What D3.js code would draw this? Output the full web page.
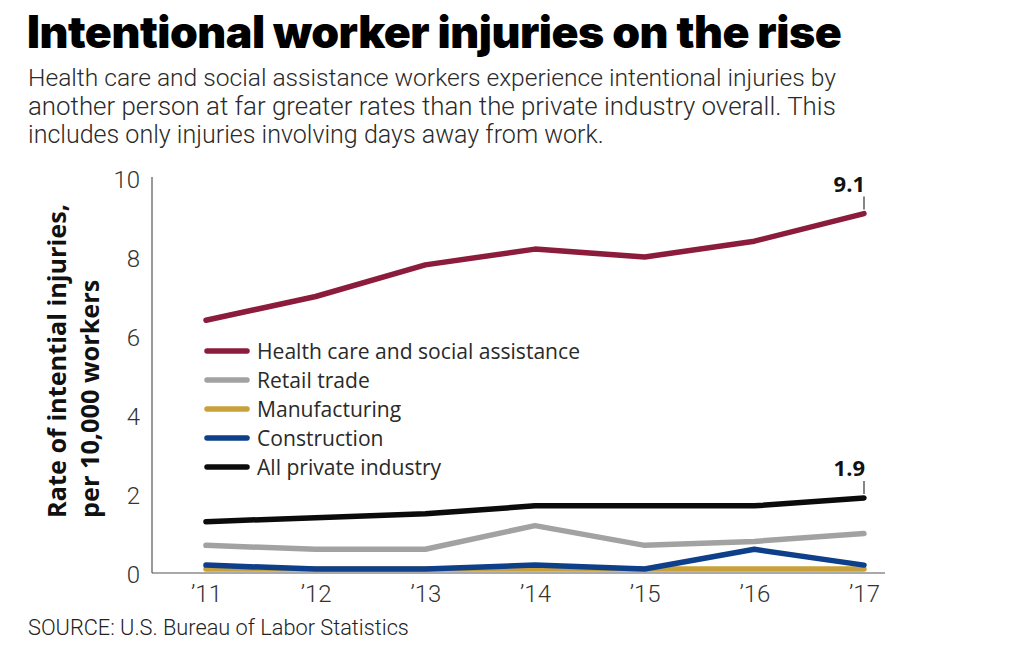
<!DOCTYPE html>
<html>
<head>
<meta charset="utf-8">
<script src="https://cdn.jsdelivr.net/npm/d3@7"></script>
<style>
  body { margin: 0; background: #fff; }
  svg { display: block; }
</style>
</head>
<body>
<svg></svg>
<script>
const years = ["’11", "’12", "’13", "’14", "’15", "’16", "’17"];
const yTicks = [0, 2, 4, 6, 8, 10];

const seriesNames = [
  "Health care and social assistance",
  "Retail trade",
  "Manufacturing",
  "Construction",
  "All private industry"
];
const healthCare = [6.4, 7.0, 7.8, 8.2, 8.0, 8.4, 9.1];
const retail = [0.7, 0.6, 0.6, 1.2, 0.7, 0.8, 1.0];
const manufacturing = [0.1, 0.1, 0.1, 0.1, 0.1, 0.1, 0.1];
const construction = [0.2, 0.1, 0.1, 0.2, 0.1, 0.6, 0.2];
const allPrivate = [1.3, 1.4, 1.5, 1.7, 1.7, 1.7, 1.9];

const colors = ["#8c1c3c", "#a2a2a2", "#c9a13a", "#0e3f8a", "#0b0b0b"];

const series = [healthCare, retail, manufacturing, construction, allPrivate];
// draw order: bottom lines first so construction sits over manufacturing
const drawOrder = [2, 3, 1, 4, 0];

const svg = d3.select("svg").attr("width", 1024).attr("height", 646);

// shrink/grow a text's font so it spans a given width
const fitWidth = function(sel, w) {
  const node = sel.node();
  const size = parseFloat(sel.attr("font-size"));
  const len = node.getComputedTextLength();
  sel.attr("font-size", (size * w / len).toFixed(2));
  return size * w / len;
};

const title = svg.append("text")
  .attr("x", 27).attr("y", 48)
  .attr("font-family", "Inter, Roboto, sans-serif")
  .attr("font-weight", 900)
  .attr("font-size", 42)
  .attr("letter-spacing", -0.5)
  .attr("fill", "#000")
  .text("Intentional worker injuries on the rise");
fitWidth(title, 813);

const subLines = [
  "Health care and social assistance workers experience intentional injuries by",
  "another person at far greater rates than the private industry overall. This",
  "includes only injuries involving days away from work."
];
const subWidths = [808, 808, 576];
subLines.forEach((line, i) => {
  const t = svg.append("text")
    .attr("x", 28).attr("y", 86 + i * 28.5)
    .attr("font-family", "Roboto, sans-serif")
    .attr("font-weight", 300)
    .attr("font-size", 22)
    .attr("fill", "#2a2a2a")
    .text(line);
  fitWidth(t, subWidths[i]);
});

const x = d3.scalePoint().domain(years).range([206, 864]);
const y = d3.scaleLinear().domain([0, 10]).range([573, 178]);

// axes
const yAxis = svg.append("g")
  .attr("transform", "translate(152,0)")
  .call(d3.axisLeft(y).tickValues(yTicks).tickSize(0).tickPadding(12));
yAxis.select(".domain").attr("stroke", "#555").attr("stroke-width", 1.2)
  .attr("d", `M0,${y(10) - 1}V${y(0)}`);
yAxis.selectAll("text")
  .attr("font-family", "Roboto, sans-serif")
  .attr("font-weight", 300)
  .attr("font-size", 24)
  .attr("fill", "#333")
  .attr("dy", "0.4em");

const xAxis = svg.append("g")
  .attr("transform", `translate(0,${y(0)})`)
  .call(d3.axisBottom(x).tickSize(0).tickPadding(12));
xAxis.select(".domain").attr("stroke", "#555").attr("stroke-width", 1.2)
  .attr("d", "M152,0H885");
xAxis.selectAll("text")
  .attr("font-family", "Roboto, sans-serif")
  .attr("font-weight", 300)
  .attr("font-size", 24)
  .attr("fill", "#333");

// y axis title
const yTitle = svg.append("g").attr("transform", "translate(0,518) rotate(-90)");
const yt1 = yTitle.append("text")
  .attr("x", 0).attr("y", 66)
  .attr("font-family", "'Open Sans', sans-serif")
  .attr("font-weight", 700)
  .attr("font-size", 23)
  .attr("fill", "#111")
  .text("Rate of intential injuries,");
const ytSize = fitWidth(yt1, 314);
yTitle.append("text")
  .attr("x", 0).attr("y", 99)
  .attr("font-family", "'Open Sans', sans-serif")
  .attr("font-weight", 700)
  .attr("font-size", ytSize)
  .attr("fill", "#111")
  .text("per 10,000 workers");

// lines
const line = d3.line()
  .x((d, i) => x(years[i]))
  .y(d => y(d));

svg.append("g")
  .selectAll("path")
  .data(drawOrder)
  .join("path")
  .attr("d", k => line(series[k]))
  .attr("fill", "none")
  .attr("stroke", k => colors[k])
  .attr("stroke-width", 5.5)
  .attr("stroke-linecap", "round")
  .attr("stroke-linejoin", "round");

// end labels
const last = years.length - 1;
[healthCare, allPrivate].forEach(s => {
  const px = x(years[last]);
  const py = y(s[last]);
  svg.append("line")
    .attr("x1", px).attr("x2", px)
    .attr("y1", py - 4).attr("y2", py - 17)
    .attr("stroke", "#333").attr("stroke-width", 1.2);
  svg.append("text")
    .attr("x", px + 1).attr("y", py - 22)
    .attr("text-anchor", "end")
    .attr("font-family", "'Open Sans', sans-serif")
    .attr("font-weight", 700)
    .attr("font-size", 22)
    .attr("fill", "#111")
    .text(s[last].toFixed(1));
});

// legend
const legend = svg.append("g").attr("transform", "translate(205,351)");
const rows = legend.selectAll("g")
  .data(seriesNames)
  .join("g")
  .attr("transform", (d, i) => `translate(0,${i * 29})`);
rows.append("line")
  .attr("x1", 2).attr("x2", 42)
  .attr("stroke", (d, i) => colors[i])
  .attr("stroke-width", 5.5)
  .attr("stroke-linecap", "round");
const legendText = rows.append("text")
  .attr("x", 52)
  .attr("dy", "0.36em")
  .attr("font-family", "'Open Sans', sans-serif")
  .attr("font-size", 18.5)
  .attr("fill", "#2a2a2a")
  .text(d => d);
const legendSize = fitWidth(legendText.filter((d, i) => i === 0), 323);
legendText.attr("font-size", legendSize.toFixed(2));

const source = svg.append("text")
  .attr("x", 28).attr("y", 635)
  .attr("font-family", "Roboto, sans-serif")
  .attr("font-weight", 300)
  .attr("font-size", 18)
  .attr("fill", "#222")
  .text("SOURCE: U.S. Bureau of Labor Statistics");
fitWidth(source, 381);
</script>
</body>
</html>
